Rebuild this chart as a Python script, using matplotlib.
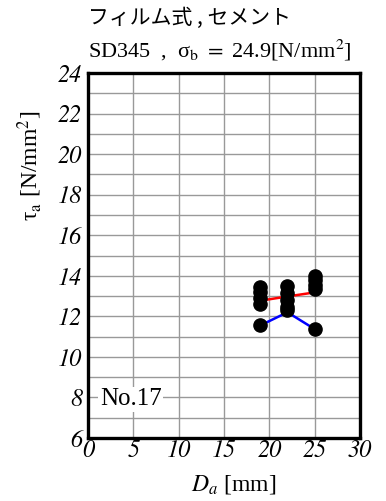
import matplotlib
matplotlib.use("Agg")
import matplotlib.pyplot as plt

# --- DATA ---
diam_19 = [13.45, 13.2, 12.9, 12.6, 11.55]
diam_22 = [13.5, 13.15, 12.8, 12.45, 12.3]
diam_25 = [14.0, 13.8, 13.55, 13.35, 11.37]
diameters = [19, 22, 25]
tau_mean = [12.77, 12.98, 13.18]
tau_min = [11.55, 12.2, 11.37]

x_ticks = [0, 5, 10, 15, 20, 25, 30]
y_ticks = [6, 8, 10, 12, 14, 16, 18, 20, 22, 24]

plt.rcParams['font.family'] = ['Liberation Serif', 'Noto Sans CJK JP']
plt.rcParams['mathtext.fontset'] = 'stix'

fig = plt.figure(figsize=(3.86, 5.01), dpi=100)
ax = fig.add_axes([88 / 386, 1 - 438 / 501, 272 / 386, 365 / 501])

ax.plot(diameters, tau_mean, color='red', lw=1.8, zorder=3)
ax.plot(diameters, tau_min, color='blue', lw=1.8, zorder=3)
for d, vals in zip(diameters, [diam_19, diam_22, diam_25]):
    ax.plot([d] * len(vals), vals, 'o', color='black', ms=9.5, zorder=4)

ax.set_xlim(0, 30)
ax.set_ylim(6, 24)
ax.set_xticks(x_ticks)
ax.set_yticks(y_ticks)
ax.set_yticks(range(6, 25), minor=True)
ax.set_xticklabels([str(v) for v in x_ticks], fontsize=17.5,
                   family='STIXGeneral', fontstyle='italic')
ax.set_yticklabels([str(v) for v in y_ticks], fontsize=17.5,
                   family='STIXGeneral', fontstyle='italic')
ax.grid(True, which='both', color='#999999', lw=1.0)
ax.set_axisbelow(True)
ax.tick_params(which='both', length=0)
ax.tick_params(axis='x', pad=1)
ax.tick_params(axis='y', pad=4)
for s in ax.spines.values():
    s.set_linewidth(2.4)

ax.text(1.3, 7.9, 'No.17', fontsize=18, va='center', ha='left',
        bbox=dict(facecolor='white', edgecolor='none', pad=1.0), zorder=5)

fig.text(88 / 386, 1 - 18 / 501, 'フィルム式 , セメント', fontsize=15,
         family=['Noto Sans CJK JP'], va='center', ha='left')
fig.text(88 / 386, 1 - 50 / 501,
         'SD345  ,  σ$_\\mathrm{b}$ $=$ 24.9[N/mm$^2$]',
         fontsize=16, va='center', ha='left')
fig.text(30 / 386, 1 - 166 / 501, 'τ$_\\mathrm{a}$ [N/mm$^2$]', fontsize=17,
         rotation=90, va='center', ha='center')
fig.text(234 / 386, 1 - 484 / 501, '$D_a$ [mm]', fontsize=17,
         va='center', ha='center')

fig.savefig('out.png', dpi=100)
